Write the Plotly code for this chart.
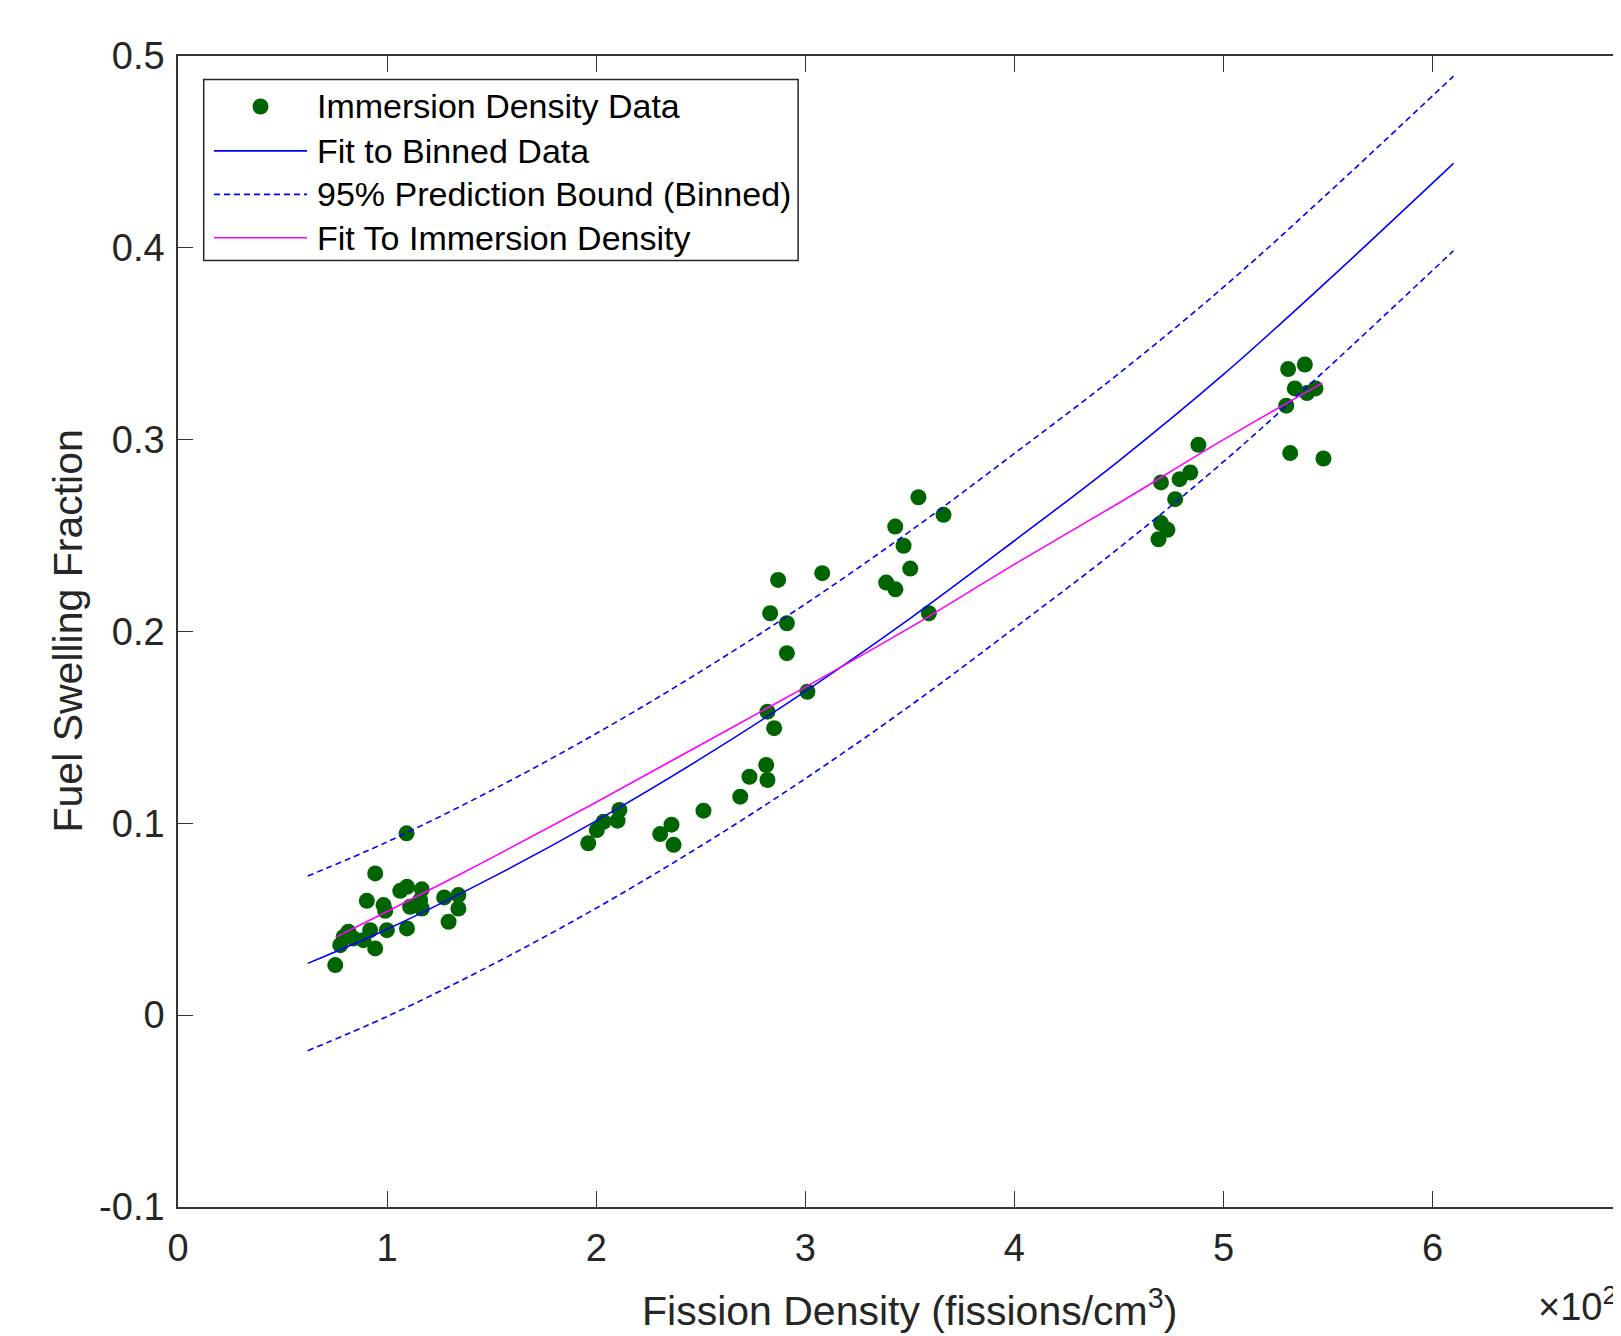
import plotly.graph_objects as go

# Immersion density data (x in units of 1e21 fissions/cm^3)
data_x = [0.752, 0.776, 0.792, 0.815, 0.839, 0.887, 0.903, 0.919, 0.943, 0.943, 0.983, 0.991, 0.999,
          1.063, 1.093, 1.095, 1.095, 1.110, 1.158, 1.166, 1.166, 1.273, 1.294, 1.341, 1.341,
          1.962, 2.003, 2.035, 2.102, 2.111, 2.306, 2.360, 2.370, 2.513, 2.689, 2.733, 2.813,
          2.819, 2.819, 2.851, 2.832, 2.870, 2.912, 2.912, 3.010, 3.081, 3.387, 3.431, 3.430,
          3.470, 3.502, 3.541, 3.591, 3.661,
          4.689, 4.701, 4.701, 4.732, 4.769, 4.790, 4.841, 4.880,
          5.300, 5.309, 5.319, 5.341, 5.389, 5.399, 5.440, 5.478]
data_y = [0.0261, 0.0365, 0.0408, 0.0435, 0.0400, 0.0391, 0.0596, 0.0443, 0.0739, 0.0348, 0.0574, 0.0544, 0.0443,
          0.0648, 0.0948, 0.0669, 0.0452, 0.0565, 0.0600, 0.0656, 0.0556, 0.0614, 0.0487, 0.0626, 0.0556,
          0.0896, 0.0965, 0.1008, 0.1014, 0.1070, 0.0944, 0.0993, 0.0888, 0.1066, 0.1139, 0.1243, 0.1304,
          0.1226, 0.1582, 0.1496, 0.2095, 0.2269, 0.2043, 0.1887, 0.1686, 0.2304, 0.2255, 0.2220, 0.2547,
          0.2447, 0.2328, 0.2700, 0.2095, 0.2608,
          0.2481, 0.2777, 0.2565, 0.2530, 0.2690, 0.2794, 0.2829, 0.2973,
          0.3177, 0.3368, 0.2930, 0.3267, 0.3392, 0.3243, 0.3267, 0.2902]

# Fit to binned data and its 95% prediction bounds
fit_x = [0.62, 1.0, 1.5, 2.0, 2.5, 3.0, 3.5, 4.0, 4.5, 5.0, 5.5, 6.1]
fit_y = [0.027, 0.0448, 0.0717, 0.1013, 0.1337, 0.1688, 0.2067, 0.2473, 0.289, 0.334, 0.383, 0.444]
upper_y = [0.0725, 0.0903, 0.1172, 0.1468, 0.1792, 0.2143, 0.2522, 0.2928, 0.3345, 0.3795, 0.4285, 0.4895]
lower_y = [-0.0185, -0.0007, 0.0262, 0.0558, 0.0882, 0.1233, 0.1612, 0.2018, 0.2435, 0.2885, 0.3375, 0.3985]

# Fit to immersion density
imm_x = [0.757, 1.0, 1.5, 2.0, 2.5, 3.0, 3.5, 4.0, 4.5, 5.0, 5.472]
imm_y = [0.0408, 0.054, 0.082, 0.111, 0.141, 0.171, 0.202, 0.235, 0.267, 0.300, 0.3295]

x_ticks = [0, 1, 2, 3, 4, 5, 6]
y_ticks = [-0.1, 0, 0.1, 0.2, 0.3, 0.4, 0.5]
y_tick_text = ["-0.1", "0", "0.1", "0.2", "0.3", "0.4", "0.5"]

legend_names = ["Immersion Density Data", "Fit to Binned Data",
                "95% Prediction Bound (Binned)", "Fit To Immersion Density"]

FONT = "Liberation Sans, Arial, Helvetica, sans-serif"
OFF = 8                      # default page body margin
W, H = 1621 - OFF, 1336 - OFF
L, T, B, R = 170, 48, 129, 0
PW, PH = W - L - R, H - T - B


def px(page_x):
    return (page_x - OFF - L) / PW


def py(page_y):
    return (H - B - (page_y - OFF)) / PH


MARK = "#006400"
BLUE = "#0000FF"
MAG = "#FF00FF"
DASH = "6px,4px"

fig = go.Figure()
fig.add_trace(go.Scatter(x=data_x, y=data_y, mode="markers", name=legend_names[0],
                         marker=dict(color=MARK, size=16, line=dict(width=0))))
fig.add_trace(go.Scatter(x=fit_x, y=fit_y, mode="lines", name=legend_names[1],
                         line=dict(color=BLUE, width=1.6, shape="spline")))
fig.add_trace(go.Scatter(x=fit_x, y=upper_y, mode="lines", name=legend_names[2],
                         line=dict(color=BLUE, width=1.6, dash=DASH, shape="spline")))
fig.add_trace(go.Scatter(x=fit_x, y=lower_y, mode="lines", name=legend_names[2] + " (lower)",
                         line=dict(color=BLUE, width=1.6, dash=DASH, shape="spline")))
fig.add_trace(go.Scatter(x=imm_x, y=imm_y, mode="lines", name=legend_names[3],
                         line=dict(color=MAG, width=1.6, shape="spline")))

x_right = PW / 209.1

fig.update_layout(
    width=W, height=H,
    margin=dict(l=L, r=R, t=T, b=B, pad=0),
    paper_bgcolor="white", plot_bgcolor="white",
    font=dict(family=FONT, size=38, color="#262626"),
    showlegend=False,
    xaxis=dict(range=[0, x_right], tickvals=x_ticks, ticktext=[str(v) for v in x_ticks],
               showgrid=False, zeroline=False, showline=True, linecolor="#333333", linewidth=1.6,
               mirror="ticks", ticks="inside", ticklen=16, tickwidth=1.4, tickcolor="#333333",
               ticklabelstandoff=7, tickfont=dict(size=38, color="#262626")),
    yaxis=dict(range=[-0.1, 0.5], tickvals=y_ticks, ticktext=y_tick_text,
               showgrid=False, zeroline=False, showline=True, linecolor="#333333", linewidth=1.6,
               mirror=False, ticks="inside", ticklen=15, tickwidth=1.4, tickcolor="#333333",
               ticklabelstandoff=4, tickfont=dict(size=38, color="#262626")),
)

# Legend box (drawn to match the original's spacing)
fig.add_shape(type="rect", xref="paper", yref="paper",
              x0=px(203.7), x1=px(798.1), y0=py(260.5), y1=py(79.6),
              line=dict(color="#262626", width=1.5), fillcolor="white", layer="above")
row_y = [106.5, 150.9, 194.4, 237.8]
fig.add_shape(type="circle", xref="paper", yref="paper", xsizemode="pixel", ysizemode="pixel",
              xanchor=px(260.5), yanchor=py(row_y[0]), x0=-8, x1=8, y0=-8, y1=8,
              fillcolor=MARK, line=dict(width=0), layer="above")
for yy, col, dash in [(row_y[1], BLUE, "solid"), (row_y[2], BLUE, DASH), (row_y[3], MAG, "solid")]:
    fig.add_shape(type="line", xref="paper", yref="paper",
                  x0=px(214), x1=px(307), y0=py(yy), y1=py(yy),
                  line=dict(color=col, width=1.6, dash=dash), layer="above")
for name, yy in zip(legend_names, row_y):
    fig.add_annotation(text=name, x=px(315), xref="paper", y=py(yy), yref="paper",
                       xanchor="left", yanchor="middle", showarrow=False,
                       font=dict(family=FONT, size=34, color="#000000"))

fig.add_annotation(text="Fission Density (fissions/cm<sup>3</sup>)", x=3.5, xref="x",
                   y=py(1308), yref="paper", xanchor="center", yanchor="middle",
                   showarrow=False, font=dict(family=FONT, size=41, color="#262626"))
fig.add_annotation(text="Fuel Swelling Fraction", textangle=-90,
                   x=px(67), xref="paper", y=py(631.5), yref="paper",
                   xanchor="center", yanchor="middle", showarrow=False,
                   font=dict(family=FONT, size=41, color="#262626"))
fig.add_annotation(text="×10<sup>21</sup>", x=px(1536), xref="paper",
                   y=py(1304), yref="paper", xanchor="left", yanchor="middle",
                   showarrow=False, font=dict(family=FONT, size=38, color="#262626"))

fig.write_html("out.html")
